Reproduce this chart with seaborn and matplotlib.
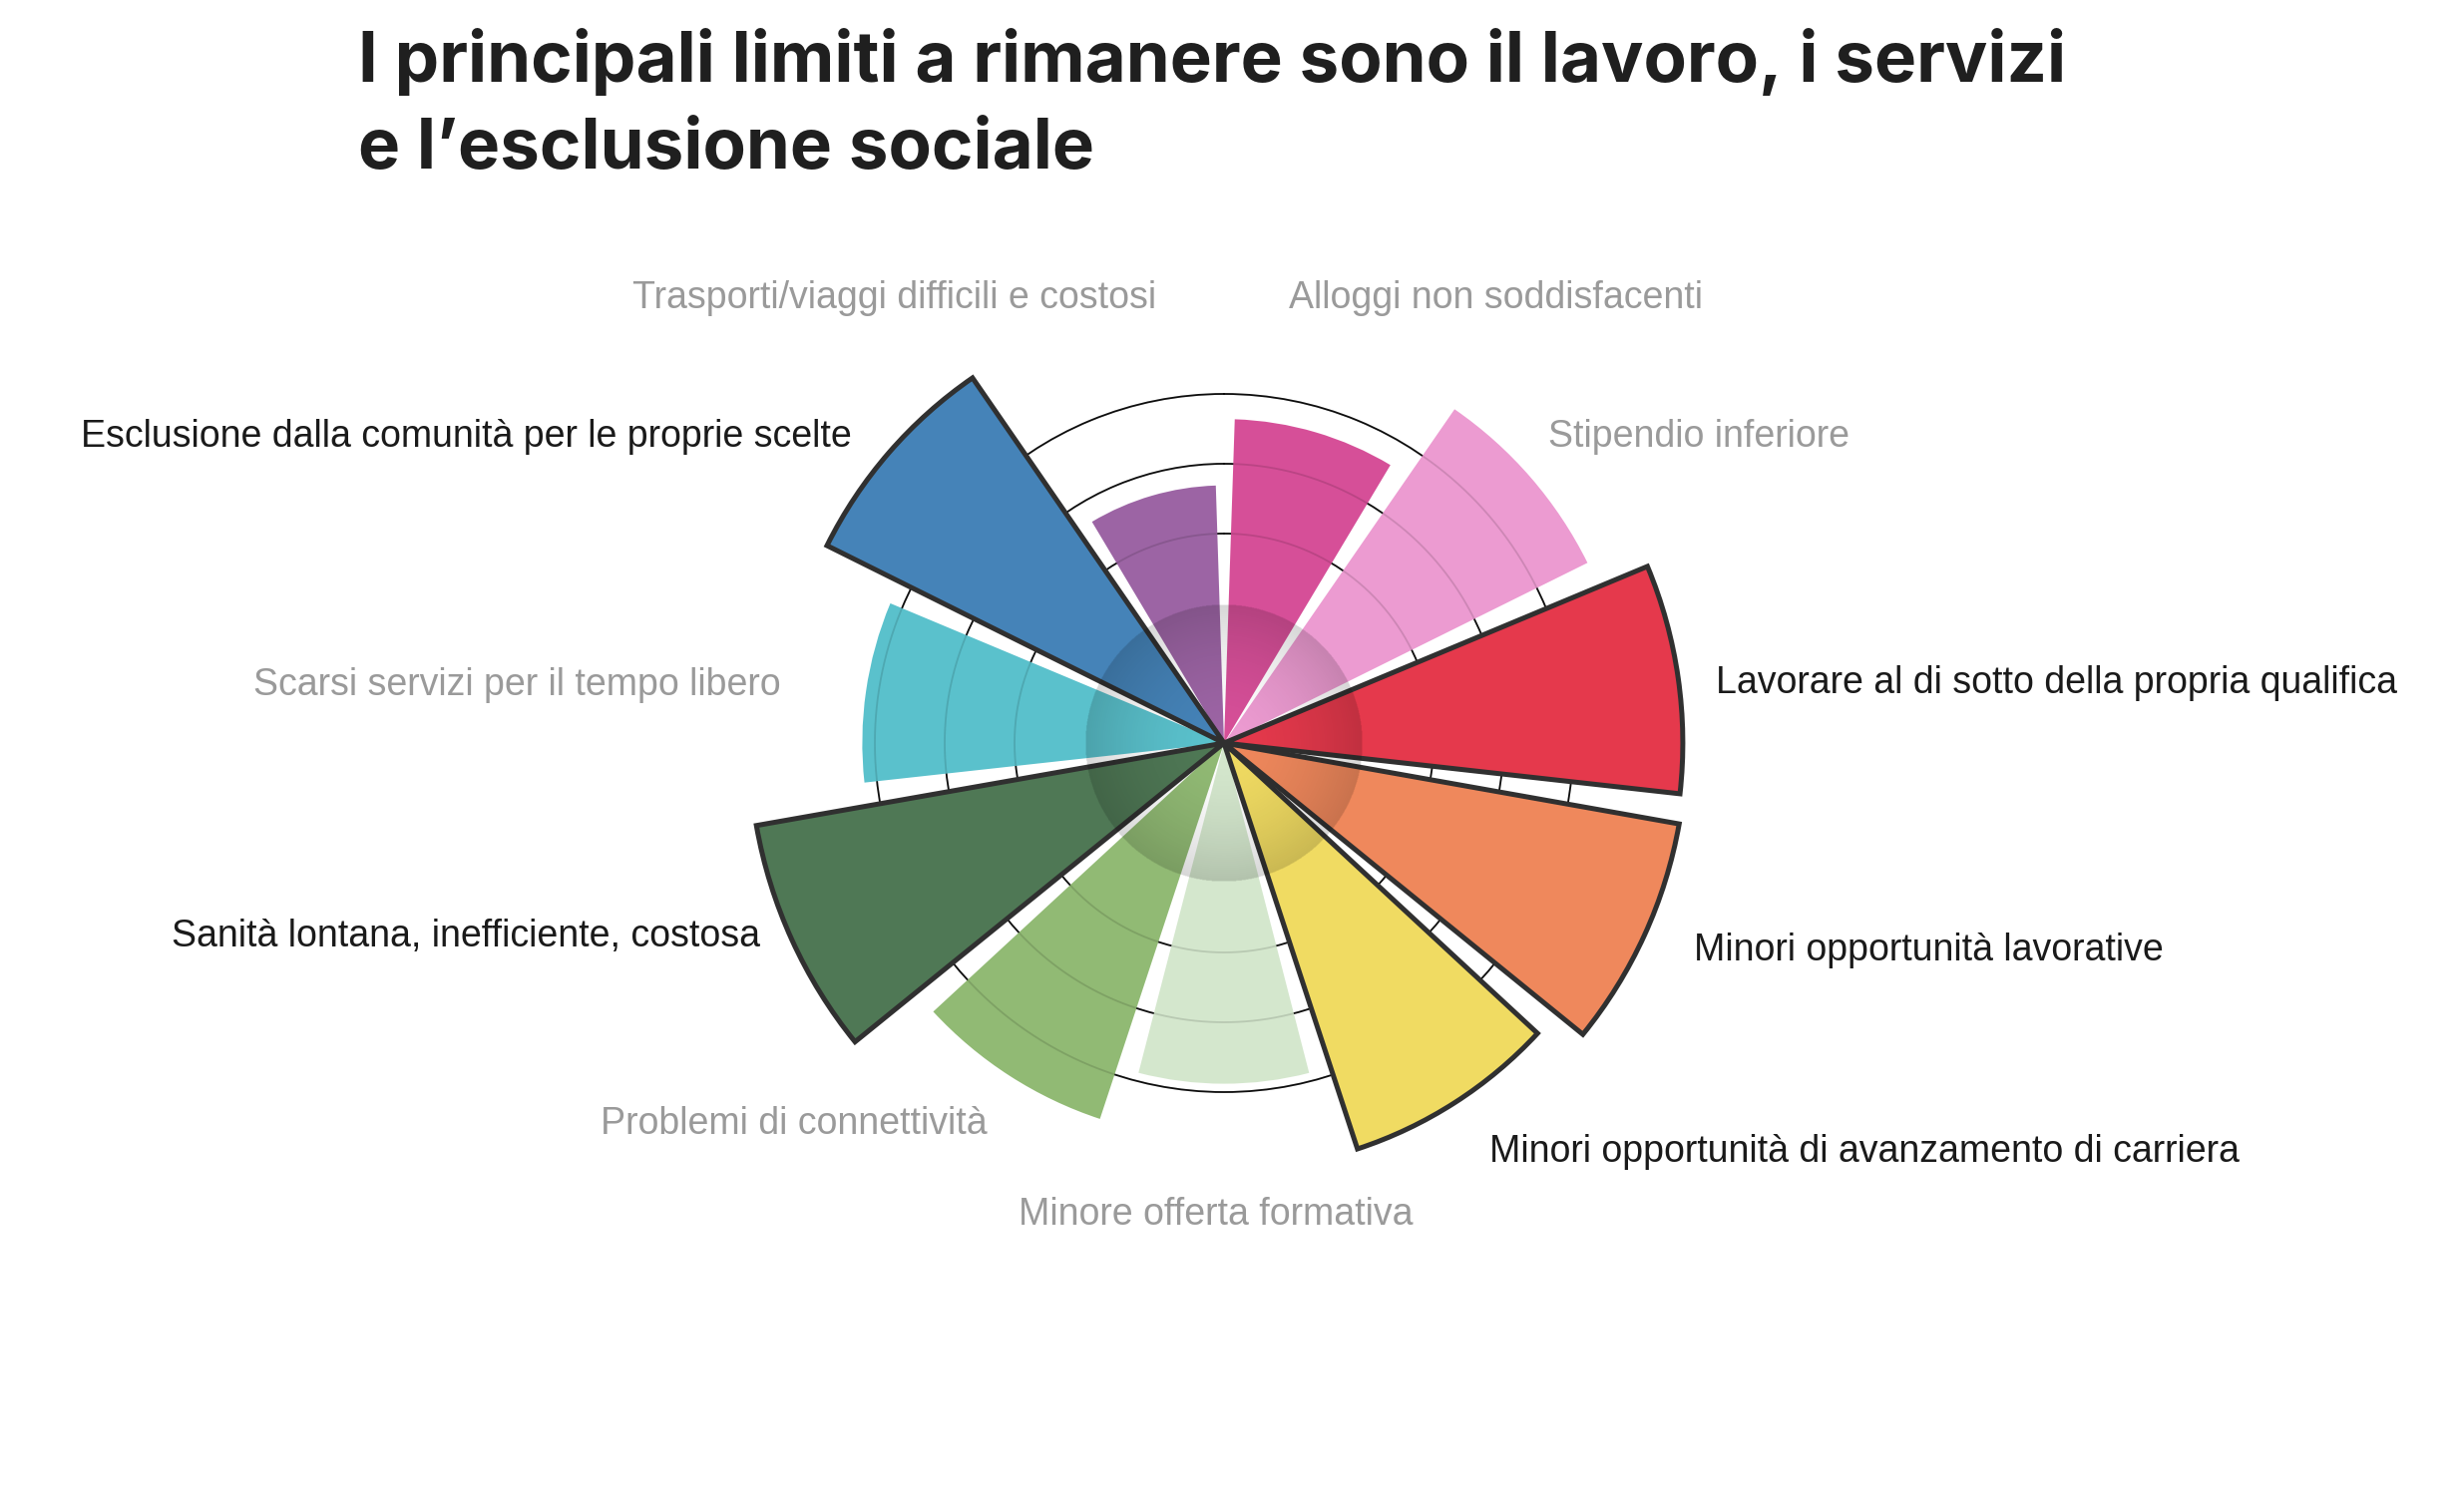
import numpy as np
import matplotlib
matplotlib.use("Agg")
import matplotlib.pyplot as plt
import seaborn as sns

# ---------------- data ----------------
categories = [
    "Alloggi non soddisfacenti",
    "Stipendio inferiore",
    "Lavorare al di sotto della propria qualifica",
    "Minori opportunità lavorative",
    "Minori opportunità di avanzamento di carriera",
    "Minore offerta formativa",
    "Problemi di connettività",
    "Sanità lontana, inefficiente, costosa",
    "Scarsi servizi per il tempo libero",
    "Esclusione dalla comunità per le proprie scelte",
    "Trasporti/viaggi difficili e costosi",
]
values = [46.4, 58.1, 65.7, 66.2, 61.2, 48.8, 56.7, 68.0, 51.8, 63.5, 36.9]
highlighted = [False, False, True, True, True, False, False, True, False, True, False]
colors = ["#D64F98", "#EC9BD1", "#E5394C", "#EF885C", "#F0DB62", "#D4E7CD",
          "#91BA74", "#4F7855", "#5AC1CC", "#4583B8", "#9C64A4"]
ring_values = [30, 40, 50]
title = "I principali limiti a rimanere sono il lavoro, i servizi\ne l\u2019esclusione sociale"

# label layout (figure fraction, alignment)
label_pos = [
    (0.5230, 0.8004, "left"),
    (0.6282, 0.7080, "left"),
    (0.6964, 0.5431, "left"),
    (0.6875, 0.3645, "left"),
    (0.6046, 0.2300, "left"),
    (0.4936, 0.1880, "center"),
    (0.4005, 0.2489, "right"),
    (0.3087, 0.3739, "right"),
    (0.3170, 0.5420, "right"),
    (0.3457, 0.7080, "right"),
    (0.4694, 0.8004, "right"),
]

# ---------------- figure ----------------
sns.set_theme(style="white")
plt.rcParams["font.family"] = ["Liberation Sans", "DejaVu Sans"]

W, H = 2470, 1500
fig = plt.figure(figsize=(W / 100, H / 100), dpi=100)
fig.patch.set_facecolor("white")

rmax = 70.0
R_px = 490.0
cx, cy = 1227.0, 745.0
rect = [(cx - R_px) / W, (H - cy - R_px) / H, 2 * R_px / W, 2 * R_px / H]
ax = fig.add_axes(rect, projection="polar")
ax.set_theta_zero_location("N")
ax.set_theta_direction(-1)
ax.set_ylim(0, rmax)
ax.set_facecolor("none")
ax.spines["polar"].set_visible(False)
ax.set_xticks([])
ax.set_yticks(ring_values)
ax.set_yticklabels([])
ax.xaxis.grid(False)
ax.yaxis.grid(True, color="#111111", linewidth=1.3)
ax.set_axisbelow(True)

n = len(categories)
step = 360.0 / n
theta = np.deg2rad(16.4 + step * np.arange(n))
width = np.deg2rad(29.0)

for th, v, c, hl in zip(theta, values, colors, highlighted):
    ax.bar(th, v, width=width, bottom=0, color=c,
           edgecolor="#303030" if hl else "none",
           linewidth=3.6 if hl else 0, zorder=3 if hl else 2,
           joinstyle="miter")

# faint rings visible through the bars
tt = np.linspace(0, 2 * np.pi, 721)
for rv in ring_values:
    ax.plot(tt, np.full_like(tt, rv), color="black", alpha=0.13, lw=1.3, zorder=2.5)

# inner radial shading (smooth overlay)
shade_r = 19.8
ax2 = fig.add_axes(rect, zorder=ax.get_zorder() + 1)
ax2.set_xlim(-rmax, rmax)
ax2.set_ylim(-rmax, rmax)
ax2.axis("off")
ax2.patch.set_alpha(0)
N = 500
g = np.linspace(-shade_r, shade_r, N)
X, Y = np.meshgrid(g, g)
Rr = np.sqrt(X ** 2 + Y ** 2) / shade_r
img = np.zeros((N, N, 4))
alpha = 0.16 * np.clip(Rr, 0, 1) ** 1.8
alpha[Rr > 1] = 0
img[..., 3] = alpha
ax2.imshow(img, extent=[-shade_r, shade_r, -shade_r, shade_r], origin="lower",
           interpolation="bilinear", aspect="auto")

for lab, (x, y, ha), hl in zip(categories, label_pos, highlighted):
    fig.text(x, y, lab, ha=ha, va="center", fontsize=27,
             color="#1a1a1a" if hl else "#9a9a9a")

fig.text(0.1454, 0.981, title, ha="left", va="top", fontsize=51,
         fontweight="bold", color="#1f1f1f", linespacing=1.42,
         family=["Inter", "DejaVu Sans"])

fig.savefig("out.png", dpi=100, facecolor="white")
